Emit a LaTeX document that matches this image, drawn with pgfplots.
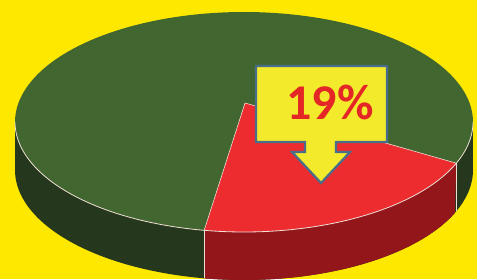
\documentclass[border=0pt]{standalone}
\usepackage{pgfplots}
\pgfplotsset{compat=1.18}
\usepackage{fontspec}
\setmainfont{Carlito}
\definecolor{bgyellow}{RGB}{255,232,0}
\definecolor{topgreen}{RGB}{66,102,48}
\definecolor{sidegreen}{RGB}{37,55,28}
\definecolor{topred}{RGB}{236,44,46}
\definecolor{sidered}{RGB}{147,22,27}
\definecolor{boxyellow}{RGB}{242,234,42}
\definecolor{boxblue}{RGB}{72,110,140}
\definecolor{textred}{RGB}{228,38,38}
\definecolor{rim}{RGB}{238,222,214}
% pie geometry (pixels): centre, semi-axes, thickness
\def\cx{244}\def\cy{157}\def\ra{229}\def\rb{110}\def\th{48}
% red share 19 %, drawn between parametric angles -100 and -22
\def\tA{-100}\def\tB{-22}
\begin{document}
\begin{tikzpicture}
\begin{axis}[width=477pt, height=279pt, scale only axis,
  xmin=0, xmax=477, ymin=0, ymax=279, hide axis, clip=true]
% background
\addplot[fill=bgyellow, draw=none] coordinates {(0,0) (477,0) (477,279) (0,279)} -- cycle;
% dark green side (s in [0,1]: top rim, s in [1,2]: bottom rim back)
\addplot[fill=sidegreen, draw=none, domain=0:2, samples=241]
  ({\cx+\ra*cos(-180+180*(1-abs(1-x)))},{\cy+\rb*sin(-180+180*(1-abs(1-x)))-\th*(x>1)}) -- cycle;
% red side
\addplot[fill=sidered, draw=none, domain=0:2, samples=161]
  ({\cx+\ra*cos(\tA+(\tB-\tA)*(1-abs(1-x)))},{\cy+\rb*sin(\tA+(\tB-\tA)*(1-abs(1-x)))-\th*(x>1)}) -- cycle;
% top face
\addplot[fill=topgreen, draw=none, domain=0:360, samples=181] ({\cx+\ra*cos(x)},{\cy+\rb*sin(x)}) -- cycle;
\addplot[fill=topred, draw=none, domain=\tA:\tB, samples=61] ({\cx+\ra*cos(x)},{\cy+\rb*sin(x)}) -- (245,176) -- cycle;
% rim and edges
\addplot[draw=rim, line width=0.8pt, domain=-180:0, samples=121] ({\cx+\ra*cos(x)},{\cy+\rb*sin(x)});
\addplot[draw=rim, line width=0.6pt] coordinates {(204.2,48.7) (245,176) (456.3,115.8)};
\addplot[draw=rim, line width=0.5pt] coordinates {(204.2,48.7) (204.2,0.7)};
\addplot[draw=rim, line width=0.5pt] coordinates {(456.3,115.8) (456.3,67.8)};
% callout
\addplot[fill=boxyellow, draw=boxblue, line width=2.2pt, line join=miter] coordinates {
 (256,213) (387,213) (387,137) (336,137) (336,127) (350,127) (321,96) (292,127) (305,127) (305,137) (256,137)} -- cycle;
\node[font=\fontsize{50}{50}\selectfont\bfseries, text=textred, anchor=base] at (330,159) {19\%};
\end{axis}
\pgfresetboundingbox
\path[use as bounding box] (current axis.south west) rectangle (current axis.north east);
\end{tikzpicture}
\end{document}
